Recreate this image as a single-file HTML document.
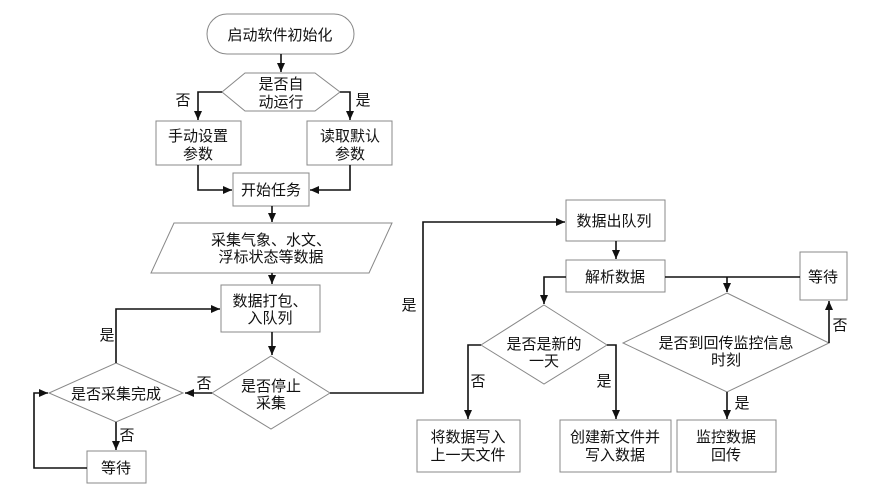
<!DOCTYPE html>
<html><head><meta charset="utf-8"><style>
body{margin:0;background:#fff;}
svg text{font-family:"Liberation Sans","Noto Sans CJK SC","WenQuanYi Zen Hei",sans-serif;font-size:15px;fill:#111;text-anchor:middle;}
.s{fill:#fff;stroke:#888;stroke-width:1;}
.l{fill:none;stroke:#111;stroke-width:1.6;}
</style></head><body>
<svg width="875" height="494" viewBox="0 0 875 494" xmlns="http://www.w3.org/2000/svg">
<defs><marker id="a" markerWidth="10" markerHeight="10" refX="9" refY="5" orient="auto" markerUnits="userSpaceOnUse"><path d="M0,1 L9,5 L0,9 z" fill="#111"/></marker></defs>
<!-- shapes -->
<rect class="s" x="207" y="14" width="147" height="40" rx="20"/>
<polygon class="s" points="222,92 245,73 315,73 340,92 315,111 245,111"/>
<rect class="s" x="156" y="121" width="85" height="44"/>
<rect class="s" x="307" y="121" width="85" height="44"/>
<rect class="s" x="233" y="173" width="76" height="33"/>
<polygon class="s" points="174,223 392,223 369,273 151,273"/>
<rect class="s" x="221" y="285" width="99" height="47"/>
<polygon class="s" points="271,356 330,393 271,429 212,393"/>
<polygon class="s" points="116,363 183,393 116,422 49,393"/>
<rect class="s" x="87" y="451" width="59" height="32"/>
<rect class="s" x="566" y="200" width="99" height="41"/>
<rect class="s" x="566" y="260" width="99" height="32"/>
<polygon class="s" points="544,305 607,345 544,384 481,345"/>
<polygon class="s" points="727,293 829,343 727,392 623,343"/>
<rect class="s" x="800" y="252" width="47" height="48"/>
<rect class="s" x="417" y="420" width="103" height="52"/>
<rect class="s" x="560" y="420" width="111" height="52"/>
<rect class="s" x="677" y="420" width="99" height="52"/>
<!-- lines -->
<path class="l" d="M281,54 V72" marker-end="url(#a)"/>
<path class="l" d="M222,92 H198 V120" marker-end="url(#a)"/>
<path class="l" d="M340,92 H350 V120" marker-end="url(#a)"/>
<path class="l" d="M198,165 V190 H232" marker-end="url(#a)"/>
<path class="l" d="M350,165 V190 H310" marker-end="url(#a)"/>
<path class="l" d="M272,206 V222" marker-end="url(#a)"/>
<path class="l" d="M272,273 V284" marker-end="url(#a)"/>
<path class="l" d="M272,332 V355" marker-end="url(#a)"/>
<path class="l" d="M212,393 H185" marker-end="url(#a)"/>
<path class="l" d="M116,363 V309 H220" marker-end="url(#a)"/>
<path class="l" d="M116,422 V450" marker-end="url(#a)"/>
<path class="l" d="M87,468 H34 V393 H48" marker-end="url(#a)"/>
<path class="l" d="M330,393 H423 V222 H565" marker-end="url(#a)"/>
<path class="l" d="M616,241 V259" marker-end="url(#a)"/>
<path class="l" d="M566,277 H544 V304" marker-end="url(#a)"/>
<path class="l" d="M665,277 H800"/>
<path class="l" d="M727,277 V292" marker-end="url(#a)"/>
<path class="l" d="M829,343 V301" marker-end="url(#a)"/>
<path class="l" d="M727,392 V419" marker-end="url(#a)"/>
<path class="l" d="M481,345 H468 V419" marker-end="url(#a)"/>
<path class="l" d="M607,345 H616 V419" marker-end="url(#a)"/>
<!-- text -->
<text x="280" y="40">启动软件初始化</text>
<text x="281" y="89">是否自</text><text x="281" y="107">动运行</text>
<text x="183" y="105">否</text><text x="363" y="105">是</text>
<text x="198" y="141">手动设置</text><text x="198" y="159">参数</text>
<text x="350" y="141">读取默认</text><text x="350" y="159">参数</text>
<text x="271" y="195">开始任务</text>
<text x="271" y="245">采集气象、水文、</text><text x="271" y="262">浮标状态等数据</text>
<text x="270" y="306">数据打包、</text><text x="270" y="323">入队列</text>
<text x="271" y="391">是否停止</text><text x="271" y="408">采集</text>
<text x="204" y="388">否</text>
<text x="116" y="399">是否采集完成</text>
<text x="107" y="340">是</text>
<text x="127" y="440">否</text>
<text x="116" y="473">等待</text>
<text x="409" y="310">是</text>
<text x="614" y="226">数据出队列</text>
<text x="615" y="282">解析数据</text>
<text x="544" y="349">是否是新的</text><text x="544" y="366">一天</text>
<text x="478" y="386">否</text><text x="604" y="386">是</text>
<text x="726" y="348">是否到回传监控信息</text><text x="726" y="365">时刻</text>
<text x="823" y="282">等待</text>
<text x="840" y="330">否</text>
<text x="742" y="408">是</text>
<text x="468" y="442">将数据写入</text><text x="468" y="460">上一天文件</text>
<text x="615" y="442">创建新文件并</text><text x="615" y="460">写入数据</text>
<text x="726" y="442">监控数据</text><text x="726" y="460">回传</text>
</svg>
</body></html>
